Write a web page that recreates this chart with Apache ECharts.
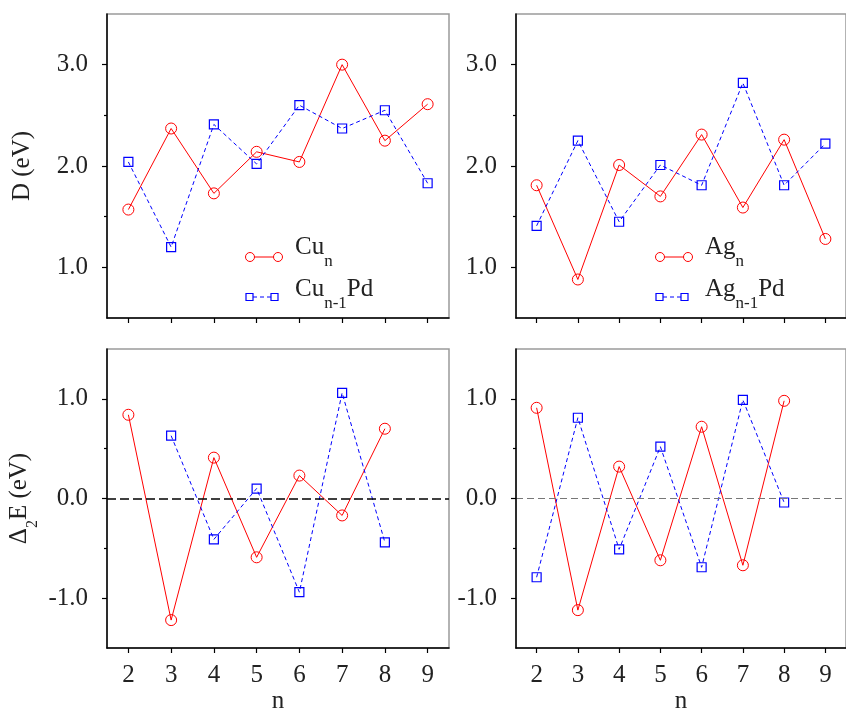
<!DOCTYPE html>
<html>
<head>
<meta charset="utf-8">
<script src="https://cdn.jsdelivr.net/npm/echarts@6/dist/echarts.min.js"></script>
<style>
html,body{margin:0;padding:0;background:#fff;}
#chart{width:846px;height:715px;}
</style>
</head>
<body>
<div id="chart"></div>
<script>
// ---- data ----
const nValues = ['2','3','4','5','6','7','8','9'];
const cuD    = [1.57, 2.37, 1.73, 2.14, 2.04, 3.00, 2.25, 2.61];
const cuPdD  = [2.04, 1.20, 2.41, 2.02, 2.60, 2.37, 2.55, 1.83];
const agD    = [1.81, 0.88, 2.01, 1.70, 2.31, 1.59, 2.26, 1.28];
const agPdD  = [1.41, 2.25, 1.45, 2.01, 1.81, 2.82, 1.81, 2.22];
const cuE    = [0.84, -1.22, 0.41, -0.59, 0.23, -0.17, 0.70, null];
const cuPdE  = [null, 0.63, -0.41, 0.10, -0.94, 1.06, -0.44, null];
const agE    = [0.91, -1.12, 0.32, -0.62, 0.72, -0.67, 0.98, null];
const agPdE  = [-0.79, 0.81, -0.51, 0.52, -0.69, 0.99, -0.04, null];
const dRange = [0.5, 3.5];
const dMajor = [1, 2, 3];
const dMinor = [1.5, 2.5];
const eRange = [-1.5, 1.5];
const eMajor = [-1, 0, 1];
const eMinor = [-0.5, 0.5];

const FONT = "'Liberation Serif', 'Times New Roman', serif";
const TXT = '#222';
const RED = '#ff0000';
const BLUE = '#0000ff';

const grids = [
  {left:107, top:14,  width:342, height:304},
  {left:516, top:14,  width:342, height:304},
  {left:107, top:349, width:342, height:303},
  {left:516, top:349, width:342, height:303}
];

const xAxes = [], yAxes = [], series = [];
grids.forEach((g, i) => {
  const bottom = i >= 2;
  xAxes.push({
    gridIndex:i, type:'category', data:nValues, boundaryGap:true,
    axisLine:{show:true, onZero:false, lineStyle:{color:'#000', width:1.5}},
    axisTick:{show:true, alignWithLabel:true, length:5, lineStyle:{color:'#000', width:1.2}},
    axisLabel:{show:bottom, fontFamily:FONT, fontSize:25, color:TXT, margin:15},
    splitLine:{show:false},
    name: bottom ? 'n' : '', nameLocation:'middle', nameGap:41,
    nameTextStyle:{fontFamily:FONT, fontSize:25, color:TXT},
    z:5
  });
});
grids.forEach((g, i) => {
  const bottom = i >= 2;
  const rng = bottom ? eRange : dRange;
  const major = bottom ? eMajor : dMajor;
  let name = '';
  if (i === 0) name = 'D (eV)';
  if (i === 2) name = '{a|Δ}{s|2}{a|E (eV)}';
  yAxes.push({
    gridIndex:i, type:'value', min:rng[0], max:rng[1], position:'left',
    axisLine:{show:true, lineStyle:{color:'#000', width:1.5}},
    axisTick:{show:true, length:5, customValues:major, lineStyle:{color:'#000', width:1.2}},
    axisLabel:{customValues:major, formatter:v => v.toFixed(1), fontFamily:FONT, fontSize:25, color:TXT, margin:19},
    splitLine:{show:false},
    name:name, nameLocation:'middle', nameGap:72, nameRotate:90,
    nameTextStyle:{fontFamily:FONT, fontSize:25, color:TXT,
      rich:{a:{fontFamily:FONT, fontSize:25, color:TXT, lineHeight:28, verticalAlign:'top'},
            s:{fontFamily:FONT, fontSize:16, color:TXT, lineHeight:16, padding:[18,0,0,0], verticalAlign:'top'}}},
    z:5
  });
});
grids.forEach((g, i) => {
  const bottom = i >= 2;
  const rng = bottom ? eRange : dRange;
  const minor = bottom ? eMinor : dMinor;
  yAxes.push({
    gridIndex:i, type:'value', min:rng[0], max:rng[1], position:'left',
    axisLine:{show:false},
    axisTick:{show:true, length:3, customValues:minor, lineStyle:{color:'#000', width:1.2}},
    axisLabel:{show:false, customValues:[]},
    splitLine:{show:false},
    z:5
  });
});

function redSeries(idx, data) {
  return {
    type:'line', xAxisIndex:idx, yAxisIndex:idx, data:data,
    symbol:'circle', symbolSize:11, showAllSymbol:true, connectNulls:false,
    itemStyle:{color:'rgba(255,255,255,0)', borderColor:RED, borderWidth:1},
    lineStyle:{color:RED, width:1},
    emphasis:{disabled:true}, animation:false, z:3
  };
}
function blueSeries(idx, data) {
  return {
    type:'line', xAxisIndex:idx, yAxisIndex:idx, data:data,
    symbol:'rect', symbolSize:9, showAllSymbol:true, connectNulls:false,
    itemStyle:{color:'rgba(255,255,255,0)', borderColor:BLUE, borderWidth:1.2},
    lineStyle:{color:BLUE, width:1, type:[4,3]},
    emphasis:{disabled:true}, animation:false, z:3
  };
}
series.push(redSeries(0, cuD), blueSeries(0, cuPdD));
series.push(redSeries(1, agD), blueSeries(1, agPdD));
const s2 = redSeries(2, cuE);
s2.markLine = {silent:true, symbol:['none','none'], label:{show:false},
  lineStyle:{color:'#000', width:1.6, type:[9,4]}, data:[{yAxis:0}], animation:false};
const s4 = redSeries(3, agE);
s4.markLine = {silent:true, symbol:['none','none'], label:{show:false},
  lineStyle:{color:'#777', width:1.1, type:[7,4]}, data:[{yAxis:0}], animation:false};
series.push(s2, blueSeries(2, cuPdE));
series.push(s4, blueSeries(3, agPdE));

// legend drawn as graphics
const legRich = {
  a:{fontFamily:FONT, fontSize:25, fill:TXT, lineHeight:28, verticalAlign:'top'},
  s:{fontFamily:FONT, fontSize:17, fill:TXT, lineHeight:17, padding:[18,0,0,0], verticalAlign:'top'}
};
function legendBlock(x0, label) {
  const els = [];
  els.push({type:'line', shape:{x1:x0+4.5, y1:257, x2:x0+28-4.5, y2:257}, style:{stroke:RED, lineWidth:1}});
  els.push({type:'circle', shape:{cx:x0, cy:257, r:4.5}, style:{stroke:RED, fill:'none', lineWidth:1}});
  els.push({type:'circle', shape:{cx:x0+28, cy:257, r:4.5}, style:{stroke:RED, fill:'none', lineWidth:1}});
  els.push({type:'line', shape:{x1:x0+3, y1:297, x2:x0+22, y2:297}, style:{stroke:BLUE, lineWidth:1, lineDash:[4,3]}});
  els.push({type:'rect', shape:{x:x0-4, y:293.5, width:7, height:7}, style:{stroke:BLUE, fill:'none', lineWidth:1.2}});
  els.push({type:'rect', shape:{x:x0+21, y:293.5, width:7, height:7}, style:{stroke:BLUE, fill:'none', lineWidth:1.2}});
  els.push({type:'text', x:x0+45, y:235, style:{text:'{a|'+label+'}{s|n}', rich:legRich}});
  els.push({type:'text', x:x0+45, y:277, style:{text:'{a|'+label+'}{s|n-1}{a|Pd}', rich:legRich}});
  return els;
}

const option = {
  animation:false,
  backgroundColor:'#fff',
  textStyle:{fontFamily:FONT},
  grid: grids.map(g => Object.assign({show:true, borderColor:'#9a9a9a', borderWidth:1.5, backgroundColor:'transparent'}, g)),
  xAxis: xAxes,
  yAxis: yAxes,
  series: series,
  graphic: legendBlock(250, 'Cu').concat(legendBlock(660, 'Ag'))
};
const chart = echarts.init(document.getElementById('chart'), null, {renderer:'canvas'});
chart.setOption(option);
</script>
</body>
</html>
